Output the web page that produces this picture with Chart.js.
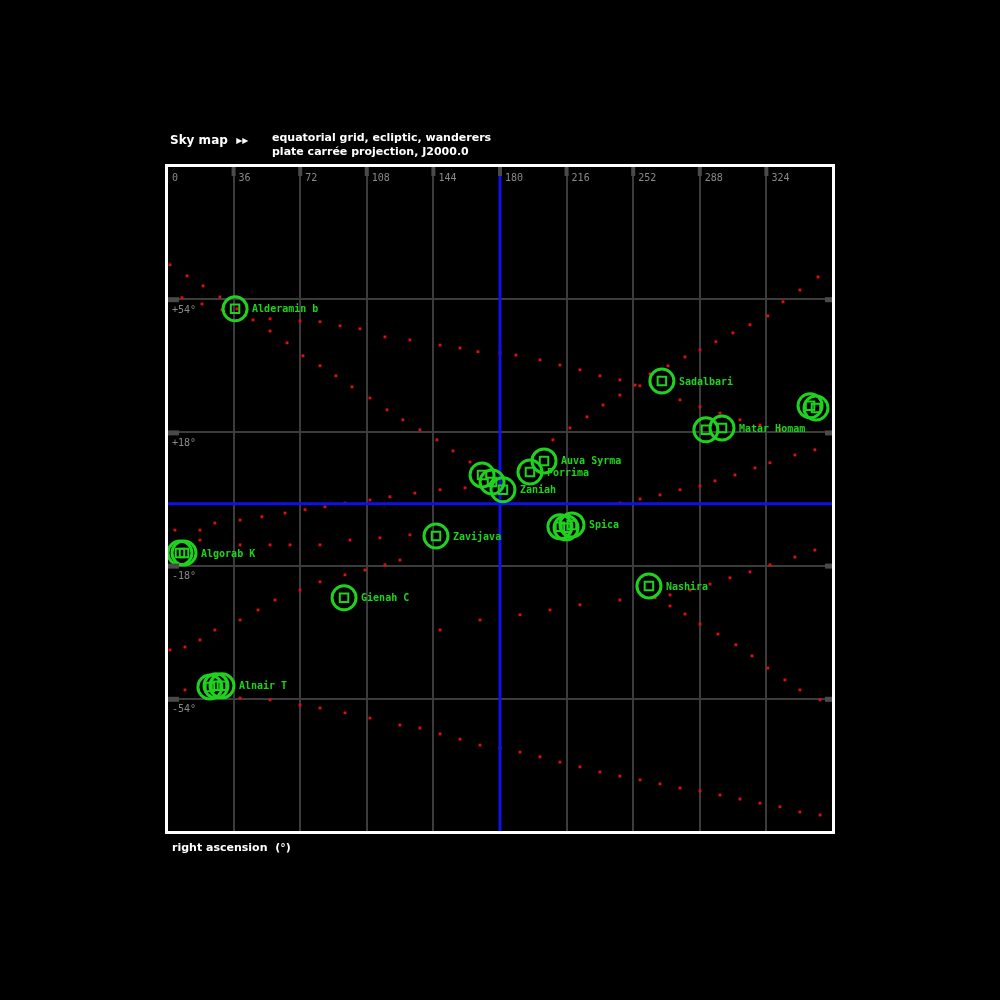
<!DOCTYPE html>
<html>
<head>
<meta charset="utf-8">
<script src="https://cdn.jsdelivr.net/npm/chart.js@4/dist/chart.umd.min.js"></script>
<style>
  body { margin: 0; background: #000; }
  canvas { display: block; }
</style>
</head>
<body>
<canvas id="sky" width="1000" height="1000"></canvas>
<script>
// tick labels
var raTicks = [0, 36, 72, 108, 144, 180, 216, 252, 288, 324];
var decTicks = [54, 18, -18, -54];

// dotted tracks, [ra, dec]
var trackA = [[1.6,63.3],[10.8,60.3],[19.5,57.6],[28.6,54.6],[37.8,51.4],[46.5,48.4],[55.7,45.4],[64.9,42.2],[73.5,38.7],[82.7,36],[91.3,33.3],[100,30.3],[109.7,27.3],[118.9,24.1],[127.5,21.4],[136.7,18.7],[145.9,16],[154.6,13],[163.8,10],[172.4,6.2]];
var trackB = [[8.1,54.4],[18.9,52.7],[29.7,51.1],[42.2,49.5],[55.7,48.7],[71.9,48.1],[82.7,47.9],[93.5,46.8],[104.3,46],[117.8,43.8],[131.3,43],[147.6,41.6],[158.4,40.8],[168.1,39.8],[180,39.5],[188.6,38.9],[201.6,37.6],[212.4,36.2],[223.2,34.9],[234,33.3],[244.8,32.2],[255.6,30.6],[266.5,28.7],[277.3,26.8],[288.1,24.9],[298.9,23.2],[309.7,21.4],[320.5,20],[331.3,18.7]];
var trackC = [[351.9,60],[342.1,56.5],[333,53.3],[324.8,49.5],[315.1,47.1],[305.9,44.9],[296.7,42.5],[288.1,40.3],[280,38.4],[270.8,36],[261.1,33.8],[253,30.8],[244.8,28.1],[235.7,25.4],[227,22.2],[217.8,19.2],[208.6,16],[200,12.7],[190.8,8.4]];
var trackD = [[350.2,13.3],[339.4,11.9],[325.9,9.8],[317.8,8.4],[307,6.5],[296.2,4.9],[288.1,3.5],[277.3,2.5],[266.5,1.1],[255.7,0],[244.8,-1.1]];
var trackE = [[350.2,-13.8],[339.4,-15.7],[325.9,-17.8],[315.1,-19.7],[304.3,-21.3],[293.5,-23],[282.7,-24.6],[271.9,-25.9]];
var trackF = [[353,-54.3],[342.1,-51.6],[334,-48.9],[324.8,-45.7],[316.2,-42.4],[307.5,-39.4],[297.8,-36.5],[288.1,-33.8],[280,-31.1],[271.9,-28.9],[263.8,-26.7]];
var trackG = [[9.7,-51.6],[39.5,-53.8],[55.7,-54.3],[71.9,-55.7],[82.7,-56.5],[96.2,-57.8],[109.7,-59.2],[125.9,-61.1],[136.7,-61.9],[147.6,-63.5],[158.4,-64.9],[169.2,-66.5],[180,-67.3],[190.8,-68.4],[201.6,-69.7],[212.4,-71.1],[223.2,-72.4],[234,-73.8],[244.8,-74.9],[255.7,-75.9],[266.5,-77],[277.3,-78.1],[288.1,-78.9],[298.9,-80],[309.7,-81.1],[320.5,-82.2],[331.3,-83.2],[342.1,-84.6],[353,-85.4]];
var trackH = [[1.6,-40.8],[9.7,-40],[17.8,-38.1],[25.9,-35.4],[39.5,-32.7],[49.2,-30],[58.4,-27.3],[71.9,-24.6],[82.7,-22.4],[96.2,-20.5],[107,-19.2],[117.8,-17.8],[125.9,-16.5]];
var trackI = [[4.3,-8.4],[17.8,-8.4],[25.9,-6.5],[39.5,-5.7],[51.3,-4.8],[63.8,-3.8],[74.6,-2.9],[85.4,-2.1],[96.2,-1.1],[109.7,-0.3],[120.5,0.6],[134,1.6],[147.6,2.5],[161.1,3]];
var trackJ = [[17.8,-11.1],[39.5,-12.4],[55.7,-12.4],[66.5,-12.4],[82.7,-12.4],[98.9,-11.1],[115.1,-10.5],[131.3,-9.7]];
var trackK = [[147.6,-35.4],[169.2,-32.7],[190.8,-31.3],[207,-30],[223.2,-28.6],[244.8,-27.3]];

// marked objects
var objRa  = [36.8, 267.5, 347.6, 350.8, 291.3, 300, 170.3, 175.7, 181.6, 196.2, 203.8, 212.4, 215.7, 218.9, 145.4, 7, 9.2, 95.7, 260.5, 23.2, 26.5, 29.7];
var objDec = [51.4, 31.9, 25.2, 24.6, 18.7, 19.2, 6.5, 4.6, 2.5, 7.3, 10.3, -7.5, -7.8, -7, -10, -14.6, -14.6, -26.7, -23.5, -50.8, -50.5, -50.5];
// labels: [index of object it sits beside, text]
var objLabels = [[0, "Alderamin b"], [1, "Sadalbari"], [5, "Matar Homam"], [8, "Zaniah"], [9, "Porrima"], [10, "Auva Syrma"], [13, "Spica"], [14, "Zavijava"], [16, "Algorab K"], [17, "Gienah C"], [18, "Nashira"], [21, "Alnair T"]];

var hAxisDec = -1.3;   // blue horizontal line
var vAxisRa = 180;     // blue vertical line

function toPts(arr) {
  return arr.map(function (p) { return { x: p[0], y: p[1] }; });
}
var allTracks = [].concat(trackA, trackB, trackC, trackD, trackE, trackF, trackG, trackH, trackI, trackJ, trackK);
var objPts = objRa.map(function (r, i) { return { x: r, y: objDec[i] }; });

var GREEN = '#1ed21e';

var decor = {
  id: 'decor',
  beforeDraw: function (c) {
    var ctx = c.ctx;
    ctx.save();
    ctx.fillStyle = '#000';
    ctx.fillRect(0, 0, c.width, c.height);
    ctx.restore();
  },
  afterDatasetsDraw: function (c) {
    var ctx = c.ctx, a = c.chartArea, xs = c.scales.x, ys = c.scales.y;
    ctx.save();
    // tick stubs
    ctx.fillStyle = '#4a4a4a';
    raTicks.forEach(function (t) {
      var px = xs.getPixelForValue(t);
      if (t > 0) ctx.fillRect(px - 2, a.top, 4, 10);
    });
    decTicks.forEach(function (t) {
      var py = ys.getPixelForValue(t);
      ctx.fillRect(a.left, py - 2, 12, 5);
      ctx.fillRect(a.right - 8, py - 2, 8, 5);
    });
    // tick labels, inside the frame
    ctx.fillStyle = '#8a8a8a';
    ctx.font = '10px "DejaVu Sans Mono"';
    ctx.textBaseline = 'middle';
    raTicks.forEach(function (t) {
      ctx.fillText(String(t), xs.getPixelForValue(t) + 5, a.top + 12);
    });
    decTicks.forEach(function (t) {
      ctx.fillText((t > 0 ? '+' : '') + t + '°', a.left + 5, ys.getPixelForValue(t) + 11);
    });
    // object labels
    ctx.fillStyle = GREEN;
    ctx.font = 'bold 10px "DejaVu Sans Mono"';
    objLabels.forEach(function (l) {
      var p = objPts[l[0]];
      ctx.fillText(l[1], xs.getPixelForValue(p.x) + 17, ys.getPixelForValue(p.y) + 1);
    });
    // frame
    ctx.strokeStyle = '#fff';
    ctx.lineWidth = 3;
    ctx.strokeRect(a.left - 0.5, a.top - 0.5, a.right - a.left + 1, a.bottom - a.top + 1);
    // title and footer
    ctx.fillStyle = '#fff';
    ctx.font = 'bold 12px "DejaVu Sans"';
    ctx.textBaseline = 'middle';
    ctx.fillText('Sky map  ▸▸', 170, 141);
    ctx.font = 'bold 11px "DejaVu Sans"';
    ctx.fillText('equatorial grid, ecliptic, wanderers', 272, 138);
    ctx.fillText('plate carrée projection, J2000.0', 272, 152);
    ctx.fillText('right ascension  (°)', 172, 848);
    ctx.restore();
  }
};

var ctx = document.getElementById('sky').getContext('2d');
new Chart(ctx, {
  type: 'scatter',
  data: {
    datasets: [
      {
        label: 'objects',
        data: objPts,
        order: 0,
        pointStyle: 'circle',
        pointRadius: 12,
        borderWidth: 3,
        borderColor: GREEN,
        backgroundColor: 'rgba(0,0,0,0)'
      },
      {
        label: 'object cores',
        data: objPts,
        order: 0,
        pointStyle: 'rect',
        pointRadius: 6,
        borderWidth: 2,
        borderColor: GREEN,
        backgroundColor: 'rgba(0,0,0,0)'
      },
      {
        label: 'meridian',
        data: [{ x: vAxisRa, y: -90 }, { x: vAxisRa, y: 90 }],
        order: 1,
        showLine: true,
        borderColor: '#1010e8',
        borderWidth: 3,
        pointRadius: 0
      },
      {
        label: 'equator',
        data: [{ x: 0, y: hAxisDec }, { x: 360, y: hAxisDec }],
        order: 1,
        showLine: true,
        borderColor: '#1010e8',
        borderWidth: 3,
        pointRadius: 0
      },
      {
        label: 'tracks',
        data: toPts(allTracks),
        order: 2,
        pointStyle: 'rect',
        pointRadius: 2,
        borderWidth: 0,
        backgroundColor: '#e01010'
      }
    ]
  },
  options: {
    responsive: false,
    animation: false,
    layout: { padding: { left: 167, top: 166, right: 167, bottom: 168 } },
    plugins: { legend: { display: false }, tooltip: { enabled: false } },
    scales: {
      x: {
        type: 'linear', min: 0, max: 360,
        ticks: { display: false, stepSize: 36 },
        grid: { color: '#3c3c3c', lineWidth: 2, drawTicks: false },
        border: { display: false }
      },
      y: {
        type: 'linear', min: -90, max: 90,
        ticks: { display: false, stepSize: 36 },
        grid: { color: '#3c3c3c', lineWidth: 2, drawTicks: false },
        border: { display: false }
      }
    }
  },
  plugins: [decor]
});
</script>
</body>
</html>
